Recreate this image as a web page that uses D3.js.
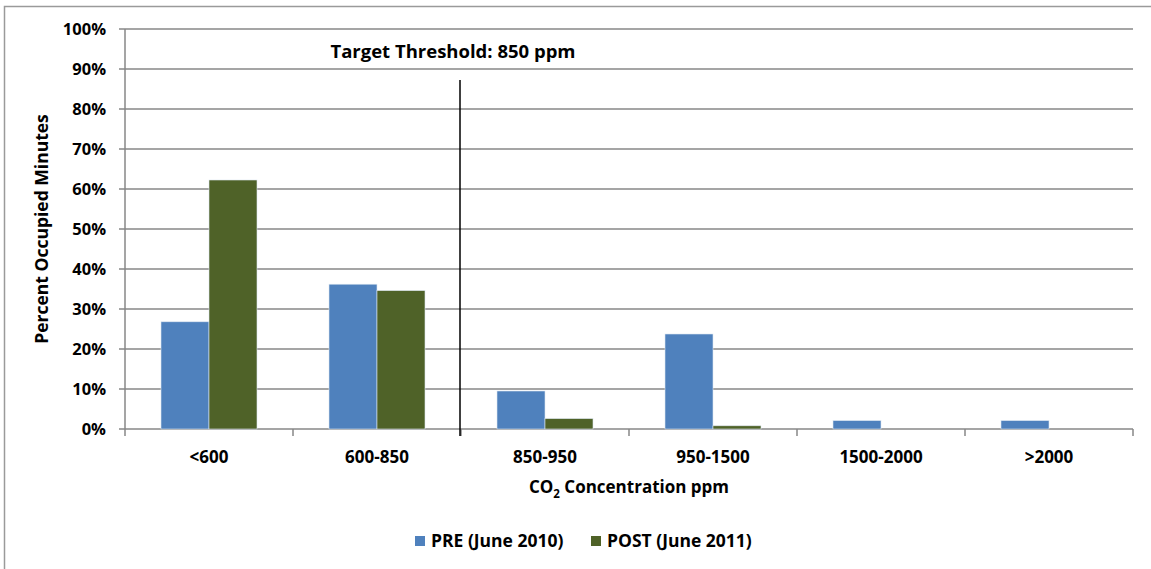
<!DOCTYPE html>
<html>
<head>
<meta charset="utf-8">
<script src="https://d3js.org/d3.v7.min.js"></script>
<style>
  body { margin: 0; background: #fff; }
  text { font-family: "Open Sans", Lato, sans-serif; font-weight: bold; fill: #000; }
</style>
</head>
<body>
<div id="chart"></div>
<script>
// categorias e series
var categorias = ["<600", "600-850", "850-950", "950-1500", "1500-2000", ">2000"];
var series = ["PRE (June 2010)", "POST (June 2011)"];
var pre = [26.8, 36.2, 9.5, 23.75, 2.1, 2.1];
var post = [62.25, 34.6, 2.6, 0.8, 0, 0];
var yTicks = [0, 10, 20, 30, 40, 50, 60, 70, 80, 90, 100];
var cores = ["#4F81BD", "#4F6228"];

var largura = 1151, altura = 569;
var margin = {top: 29, right: 18, bottom: 140, left: 125};
var larguraVis = largura - margin.left - margin.right,
    alturaVis = altura - margin.top - margin.bottom;

var svg = d3.select("#chart").append("svg")
  .attr("width", largura).attr("height", altura);

// moldura do grafico
svg.append("rect")
  .attr("x", 4.5).attr("y", 6.5)
  .attr("width", 1160).attr("height", 600)
  .attr("fill", "none").attr("stroke", "#9a9a9a").attr("stroke-width", 1.5);

var g = svg.append("g")
  .attr("transform", "translate(" + margin.left + "," + margin.top + ")");

var x = d3.scaleBand().domain(categorias).range([0, larguraVis]).padding(0);
var xSub = d3.scaleBand().domain(series).range([0, x.bandwidth()]).paddingInner(0).paddingOuter(0.75);
var y = d3.scaleLinear().domain([0, 100]).range([alturaVis, 0]);

// grades
g.selectAll(".grid").data(yTicks).enter().append("line")
  .attr("x1", -6).attr("x2", larguraVis)
  .attr("y1", d => y(d)).attr("y2", d => y(d))
  .attr("stroke", "#878787").attr("stroke-width", 1.5);

// eixo y
g.append("line")
  .attr("x1", 0).attr("x2", 0).attr("y1", 0).attr("y2", alturaVis)
  .attr("stroke", "#878787").attr("stroke-width", 1.5);
g.selectAll(".ylab").data(yTicks).enter().append("text")
  .attr("x", -19).attr("y", d => y(d)).attr("dy", "0.35em")
  .attr("text-anchor", "end").style("font-size", "16.5px")
  .text(d => d + "%");

// ticks eixo x
var bordas = categorias.map(c => x(c)).concat([larguraVis]);
g.selectAll(".xtick").data(bordas).enter().append("line")
  .attr("x1", d => d).attr("x2", d => d)
  .attr("y1", alturaVis).attr("y2", alturaVis + 7)
  .attr("stroke", "#878787").attr("stroke-width", 1.5);
g.selectAll(".xlab").data(categorias).enter().append("text")
  .attr("x", d => x(d) + x.bandwidth() / 2).attr("y", alturaVis + 34)
  .attr("text-anchor", "middle").style("font-size", "17px")
  .text(d => d);

// barras
var dados = [];
categorias.forEach(function(c, i) {
  dados.push({cat: c, serie: series[0], v: pre[i], cor: cores[0]});
  dados.push({cat: c, serie: series[1], v: post[i], cor: cores[1]});
});
g.selectAll(".bar").data(dados.filter(d => d.v > 0)).enter().append("rect")
  .attr("x", d => x(d.cat) + xSub(d.serie))
  .attr("y", d => y(d.v))
  .attr("width", xSub.bandwidth())
  .attr("height", d => alturaVis - y(d.v))
  .attr("fill", d => d.cor)
  .attr("stroke", "#dde6f0").attr("stroke-width", 0.6);

// linha do limite
var xLimite = x("850-950");
g.append("line")
  .attr("x1", xLimite - 1).attr("x2", xLimite - 1)
  .attr("y1", 51).attr("y2", alturaVis + 7)
  .attr("stroke", "#000").attr("stroke-width", 1.5);
svg.append("text")
  .attr("x", 453).attr("y", 58).attr("text-anchor", "middle")
  .style("font-size", "18.5px")
  .text("Target Threshold: 850 ppm");

// titulos
var tx = svg.append("text")
  .attr("x", 629).attr("y", 493).attr("text-anchor", "middle")
  .style("font-size", "17px");
tx.append("tspan").text("CO");
tx.append("tspan").attr("dy", 5).style("font-size", "11.5px").text("2");
tx.append("tspan").attr("dy", -5).text(" Concentration ppm");

svg.append("text")
  .attr("transform", "translate(48," + (margin.top + alturaVis / 2) + ") rotate(-90)")
  .attr("text-anchor", "middle").style("font-size", "17.5px")
  .text("Percent Occupied Minutes");

// legenda
var leg = svg.selectAll(".legend").data(series).enter().append("g")
  .attr("transform", (d, i) => "translate(" + [415, 591][i] + ",536)");
leg.append("rect").attr("width", 10).attr("height", 10).attr("fill", (d, i) => cores[i]);
leg.append("text").attr("x", 16).attr("y", 11).style("font-size", "17.5px").text(d => d);
</script>
</body>
</html>
